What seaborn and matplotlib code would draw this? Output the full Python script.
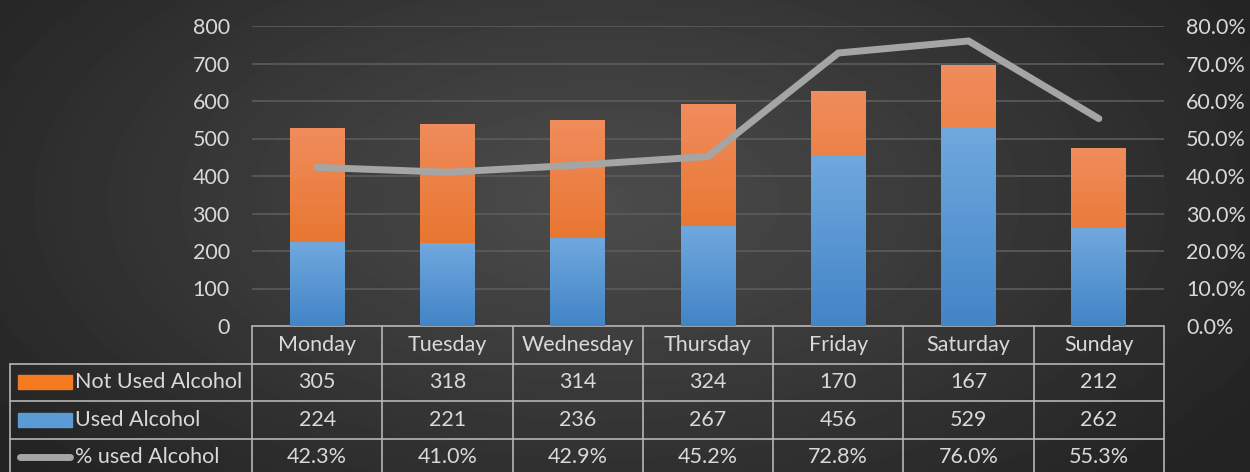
import numpy as np
import pandas as pd
import matplotlib
matplotlib.use("Agg")
import matplotlib.pyplot as plt
import seaborn as sns
from matplotlib.ticker import FuncFormatter

days = ["Monday", "Tuesday", "Wednesday", "Thursday", "Friday", "Saturday", "Sunday"]
not_used = [305, 318, 314, 324, 170, 167, 212]
used = [224, 221, 236, 267, 456, 529, 262]
pct_used = [42.3, 41.0, 42.9, 45.2, 72.8, 76.0, 55.3]

df = pd.DataFrame({"day": days, "not_used": not_used, "used": used, "pct": pct_used})
df["total"] = df["used"] + df["not_used"]

sns.set_theme(style="dark")
plt.rcParams["font.family"] = ["Lato", "DejaVu Sans"]
TXT = "#d9d9d9"
GRID = "#5c5c5c"
TBL = "#b5b5b5"
FS = 15.5

fig = plt.figure(figsize=(12.5, 4.72), dpi=100)

# radial dark background
bg = fig.add_axes([0, 0, 1, 1], zorder=-10)
yy, xx = np.mgrid[0:472, 0:1250]
r = np.sqrt(((xx - 600) / 800.0) ** 2 + ((yy - 200) / 420.0) ** 2)
shade = np.clip(0.30 - 0.17 * r, 0.14, 0.30)
bg.imshow(shade, cmap="gray", vmin=0, vmax=1, aspect="auto", extent=[0, 1, 0, 1])
bg.axis("off")

ax = fig.add_axes([252 / 1250, 1 - 326 / 472, 912 / 1250, 300 / 472])
ax.patch.set_alpha(0)

sns.barplot(data=df, x="day", y="total", color="#f47b20", width=0.42, ax=ax,
            saturation=1, linewidth=0, zorder=3)
n_top = len(ax.patches)
sns.barplot(data=df, x="day", y="used", color="#5b9bd5", width=0.42, ax=ax,
            saturation=1, linewidth=0, zorder=4)

# vertical gradients on the bars
def grad(patch, top, bottom, z):
    x0, y0 = patch.get_x(), patch.get_y()
    w, h = patch.get_width(), patch.get_height()
    c = np.linspace(0, 1, 64)[:, None, None]
    img = (1 - c) * np.array(top)[None, None, :] + c * np.array(bottom)[None, None, :]
    im = ax.imshow(img, extent=[x0, x0 + w, y0, y0 + h], aspect="auto", zorder=z)
    im.set_clip_path(patch)

for p in ax.patches[:n_top]:
    grad(p, (0.94, 0.55, 0.36), (0.89, 0.40, 0.07), 3.5)
for p in ax.patches[n_top:]:
    grad(p, (0.44, 0.66, 0.87), (0.26, 0.52, 0.78), 4.5)

ax.set_xlim(-0.5, len(days) - 0.5)
ax.set_ylim(0, 800)
ax.set_yticks(range(0, 801, 100))
ax.grid(axis="y", color=GRID, linewidth=1.2, zorder=0)
ax.grid(axis="x", visible=False)
ax.set_xticks([])
ax.set_xlabel("")
ax.set_ylabel("")
for s in ax.spines.values():
    s.set_visible(False)
ax.tick_params(axis="y", colors=TXT, labelsize=FS, length=0, pad=16)

ax2 = ax.twinx()
sns.lineplot(x=np.arange(len(days)), y=df["pct"] / 100, ax=ax2, color="#a5a5a5",
             linewidth=5, solid_capstyle="round", solid_joinstyle="miter", zorder=6)
ax2.set_ylim(0, 0.8)
ax2.set_yticks(np.arange(0, 0.81, 0.1))
ax2.yaxis.set_major_formatter(FuncFormatter(lambda v, _: f"{v * 100:.1f}%"))
ax2.tick_params(axis="y", colors=TXT, labelsize=FS, length=0, pad=16)
ax2.set_ylabel("")
ax2.grid(False)
for s in ax2.spines.values():
    s.set_visible(False)

# data table under the plot
row_h = 37.5 / 300
left = -2.357
nrows = 4
tr = ax.get_xaxis_transform()
kw = dict(color=TBL, linewidth=1.2, clip_on=False, transform=tr)
ax.plot([-0.5, len(days) - 0.5], [0, 0], **kw)
for i in range(1, nrows):
    ax.plot([left, len(days) - 0.5], [-i * row_h, -i * row_h], **kw)
ax.plot([left, left], [-row_h, -nrows * row_h], **kw)
for j in range(len(days) + 1):
    ax.plot([j - 0.5, j - 0.5], [0, -nrows * row_h], **kw)

for j, d in enumerate(days):
    ax.text(j, -0.5 * row_h, d, ha="center", va="center", color=TXT, fontsize=FS,
            transform=tr)
    ax.text(j, -1.5 * row_h, f"{not_used[j]}", ha="center", va="center", color=TXT,
            fontsize=FS, transform=tr)
    ax.text(j, -2.5 * row_h, f"{used[j]}", ha="center", va="center", color=TXT,
            fontsize=FS, transform=tr)
    ax.text(j, -3.5 * row_h, f"{pct_used[j]:.1f}%", ha="center", va="center",
            color=TXT, fontsize=FS, transform=tr)

labels = ["Not Used Alcohol", "Used Alcohol", "% used Alcohol"]
for i, lab in enumerate(labels):
    yc = -(i + 1.5) * row_h
    if i < 2:
        col = "#f47b20" if i == 0 else "#5b9bd5"
        ax.add_patch(plt.Rectangle((left + 0.062, yc - 0.0235), 0.41, 0.047,
                                   color=col, transform=tr, clip_on=False))
    else:
        ax.plot([left + 0.075, left + 0.46], [yc, yc], color="#a5a5a5", linewidth=5,
                solid_capstyle="round", transform=tr, clip_on=False)
    ax.text(left + 0.5, yc, lab, ha="left", va="center", color=TXT, fontsize=FS,
            transform=tr)

fig.savefig("out.png", dpi=100)
